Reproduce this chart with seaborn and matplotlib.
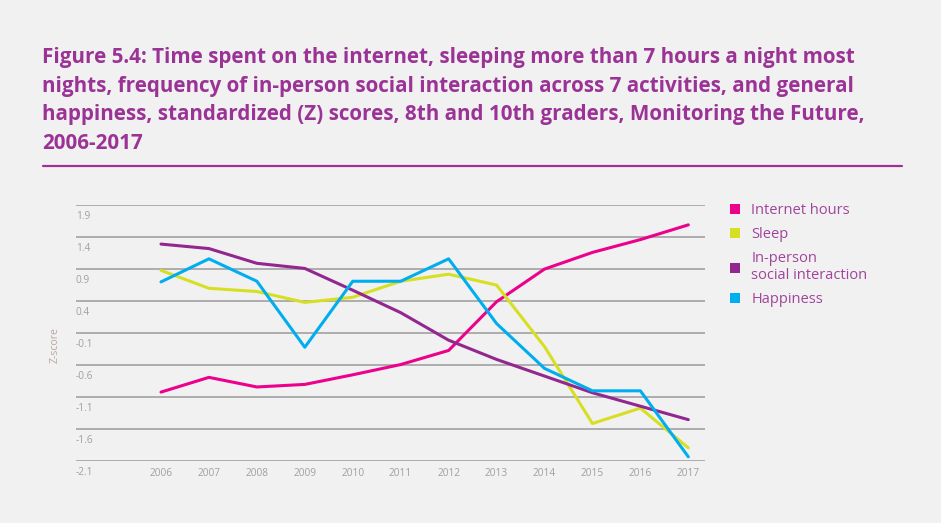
import pandas as pd
import seaborn as sns
import numpy as np
import matplotlib
matplotlib.use('Agg')
import matplotlib.pyplot as plt
from matplotlib.patches import Patch

years = list(range(2006, 2018))
internet = [-1.02, -0.79, -0.94, -0.90, -0.75, -0.59, -0.37, 0.39, 0.90, 1.16, 1.36, 1.59]
sleep = [0.88, 0.60, 0.55, 0.38, 0.46, 0.71, 0.82, 0.65, -0.31, -1.51, -1.27, -1.89]
inperson = [1.29, 1.22, 0.99, 0.91, 0.57, 0.22, -0.21, -0.51, -0.77, -1.03, -1.24, -1.45]
happiness = [0.70, 1.06, 0.71, -0.32, 0.71, 0.71, 1.06, 0.05, -0.65, -1.00, -1.00, -2.03]

series_names = ['Internet hours', 'Sleep', 'In-person\nsocial interaction', 'Happiness']
colors = ['#EC008C', '#D7DF23', '#92278F', '#00AEEF']
ytick_vals = [1.9, 1.4, 0.9, 0.4, -0.1, -0.6, -1.1, -1.6, -2.1]

df = pd.DataFrame({
    'year': years * 4,
    'z': internet + sleep + inperson + happiness,
    'series': sum([[n] * len(years) for n in series_names], []),
})

sns.set_style('white')
plt.rcParams['font.family'] = ['Open Sans', 'DejaVu Sans']

bg = '#F1F1F1'
title_color = '#9B3396'
fig = plt.figure(figsize=(9.41, 5.23), dpi=100, facecolor=bg)
ax = fig.add_axes([76/941, 1 - 461.3/523, (705-76)/941, (461.3-205)/523])
ax.set_facecolor(bg)

sns.lineplot(data=df, x='year', y='z', hue='series', palette=colors,
             hue_order=series_names, linewidth=2.2, legend=False, ax=ax)

ax.set_xlim(2004.227, 2017.348)
ax.set_ylim(-2.1, 1.9)
ax.set_yticks(ytick_vals)
ax.yaxis.grid(True, color='#9A9A9A', linewidth=1.1)
ax.set_axisbelow(True)
ax.tick_params(axis='y', length=0, labelleft=False)
ax.set_xticks(years)
ax.set_xticklabels([str(y) for y in years], fontsize=7.3, color='#A0A0A0')
ax.tick_params(axis='x', length=0, pad=5)
for s in ax.spines.values():
    s.set_visible(False)
ax.set_xlabel('')
ax.set_ylabel('')

for v in ytick_vals:
    ax.annotate(f'{v:g}', xy=(0, v), xycoords=('axes fraction', 'data'),
                xytext=(0, -4), textcoords='offset points',
                ha='left', va='top', fontsize=7.3, color='#A0A0A0')

fig.text(55/941, 1 - 345/523, 'Z-score', rotation=90, ha='center', va='center',
         fontsize=7.5, color='#B8A89E')

fig.text(42/941, 1 - 47/523,
         'Figure 5.4: Time spent on the internet, sleeping more than 7 hours a night most\n'
         'nights, frequency of in-person social interaction across 7 activities, and general\n'
         'happiness, standardized (Z) scores, 8th and 10th graders, Monitoring the Future,\n'
         '2006-2017',
         ha='left', va='top', fontsize=14.9, fontweight='bold', color=title_color,
         linespacing=1.48)

fig.add_artist(plt.Line2D([43/941, 902/941], [1 - 165.7/523] * 2, color=title_color, linewidth=1.6))

handles = [Patch(facecolor=c, edgecolor='none') for c in colors]
fig.legend(handles, series_names, loc='upper left', bbox_to_anchor=(717/941, 1 - 190/523),
           frameon=False, fontsize=10.5, labelcolor='#A0449B', handlelength=0.7,
           handleheight=0.7, handletextpad=0.75, labelspacing=0.62)

fig.savefig('out.png', dpi=100, facecolor=bg)
